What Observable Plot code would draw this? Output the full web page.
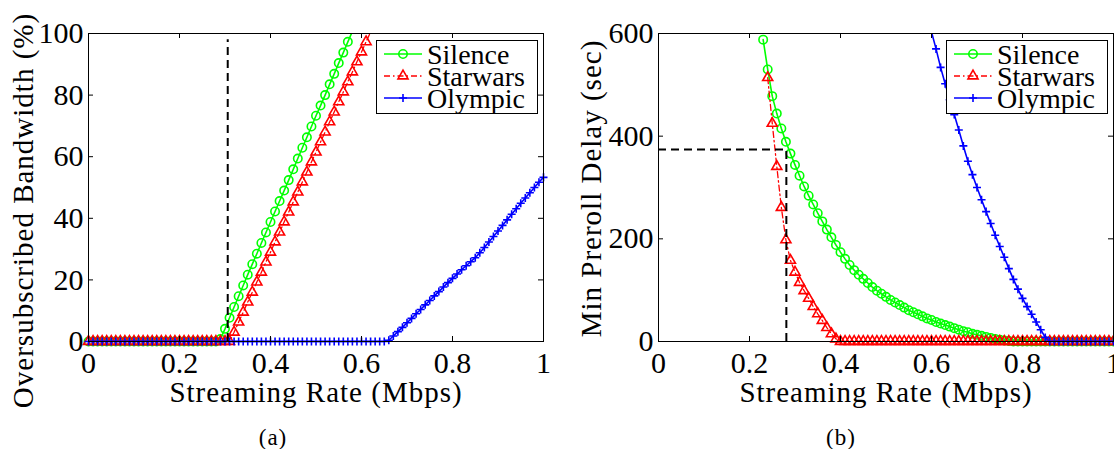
<!DOCTYPE html>
<html>
<head>
<meta charset="utf-8">
<script src="https://cdn.jsdelivr.net/npm/d3@7"></script>
<script src="https://cdn.jsdelivr.net/npm/@observablehq/plot@0.6"></script>
<style>
  body { margin: 0; background: #fff; }
  #row { display: flex; width: 1114px; height: 449px; overflow: hidden; }
  #row svg { flex: none; }
</style>
</head>
<body>
<div id="row"></div>
<script>
// ---------- data ----------
const rateStep = 0.01;
const xTicks = [0, 0.2, 0.4, 0.6, 0.8, 1];
const oversubTicks = [0, 20, 40, 60, 80, 100];
const delayTicks = [0, 200, 400, 600];
const seriesNames = ["Silence", "Starwars", "Olympic"];

// (a) Oversubscribed bandwidth (%)
const silenceOversubStart = 0.00;
const silenceOversub = [0,0,0,0,0,0,0,0,0,0, 0,0,0,0,0,0,0,0,0,0, 0,0,0,0,0,0,0,0,0,
  0.8,4.1,7.7,11.2,14.7,18.2,21.7,25.1,28.5,32.0,35.4,38.8,42.2,45.6,49.0,52.4,55.9,59.4,62.9,66.3,
  69.8,73.3,76.6,80.0,83.5,86.9,90.4,93.8,97.3,100.7];
const starwarsOversubStart = 0.00;
const starwarsOversub = [0,0,0,0,0,0,0,0,0,0, 0,0,0,0,0,0,0,0,0,0, 0,0,0,0,0,0,0,0,0,0, 0,0,
  3.0,6.3,9.5,12.8,16.0,19.3,22.5,25.8,29.0,32.3,35.5,38.8,42.0,45.3,48.5,51.8,55.0,58.3,61.5,64.8,
  68.0,71.3,74.5,77.8,81.0,84.3,87.5,90.8,94.0,97.3,100.5];
const olympicOversubStart = 0.00;
const olympicOversub = [0,0,0,0,0,0,0,0,0,0, 0,0,0,0,0,0,0,0,0,0, 0,0,0,0,0,0,0,0,0,0,
  0,0,0,0,0,0,0,0,0,0, 0,0,0,0,0,0,0,0,0,0, 0,0,0,0,0,0,0,0,0,0, 0,0,0,0,0,0,
  0.4,1.8,3.2,4.6,6.1,7.5,9.0,10.4,11.9,13.3,14.8,16.2,17.7,19.1,20.5,21.9,23.3,24.6,25.9,27.2,
  28.8,30.5,32.3,34.1,35.9,37.7,39.5,41.3,43.1,44.9,46.6,48.3,50.0,51.7,53.3];
const refRateA = 0.306, refTopA = 98;

// (b) Min preroll delay (sec)
const silenceDelayStart = 0.23;
const silenceDelay = [588,530,478,444,415,389,366,344,323,302,284,267,250,234,218,203,188,174,161,149,
  139,130,122,114,106,99,93,87,81,76,71,66,61,57,53,49,45,42,38,35,32,29,26,23,20,18,15,13,11,9,7,5,3.5,2,1,0,
  0,0,0,0,0,0,0,0,0,0, 0,0,0,0,0,0,0,0,0,0, 0,0];
const starwarsDelayStart = 0.24;
const starwarsDelay = [514,425,341,261,198,158,135,115,99,84,68,54,41,27,15,5,0,
  0,0,0,0,0,0,0,0,0,0, 0,0,0,0,0,0,0,0,0,0, 0,0,0,0,0,0,0,0,0,0,
  0,0,0,0,0,0,0,0,0,0, 0,0,0,0,0,0,0,0,0,0, 0,0,0,0,0,0,0,0,0,0];
const olympicDelayStart = 0.60;
const olympicDelay = [603,570,534,502,471,442,412,381,351,325,300,276,253,230,207,185,164,142,121,102,
  84,68,53,38,23,8,0, 0,0,0,0,0,0,0,0,0,0,0,0,0,0];
const refRateB = 0.281, refDelayB = 374;

// ---------- styling ----------
const FONT = "'Liberation Serif', 'Times New Roman', serif";
const styles = [
  {color: "#00ff00", symbol: "circle", r: 4.2, dash: null, width: 1.6, d3sym: d3.symbolCircle},
  {color: "#ff0000", symbol: "triangle2", r: 4.8, dash: "6,3,1.5,3", width: 1.3, d3sym: d3.symbolTriangle2},
  {color: "#0000ff", symbol: "plus", r: 2.7, dash: null, width: 1.6, d3sym: d3.symbolPlus}
];

function toRows(start, values) {
  return values.map((v, i) => ({rate: +(start + i * rateStep).toFixed(2), value: v}));
}

function panel(cfg) {
  const W = cfg.width, H = 449, mT = 33, mB = 108;
  const innerW = W - cfg.marginLeft - cfg.marginRight, innerH = H - mT - mB;
  const yMax = cfg.yDomain[1];
  const marks = [];
  cfg.series.forEach((rows, i) => {
    const s = styles[i];
    marks.push(Plot.line(rows, {x: "rate", y: "value", stroke: s.color, strokeWidth: s.width,
      strokeDasharray: s.dash, clip: true}));
    marks.push(Plot.dot(rows.filter(d => d.value <= yMax), {x: "rate", y: "value", symbol: s.symbol, r: s.r,
      stroke: s.color, fill: "none", strokeWidth: 1.6}));
  });
  marks.push(...cfg.refMarks);
  marks.push(Plot.frame({stroke: "black", strokeWidth: 1}));
  marks.push(Plot.tickX(xTicks, {x: d => d, stroke: "black", insetTop: innerH - 5}));
  marks.push(Plot.tickX(xTicks, {x: d => d, stroke: "black", insetBottom: innerH - 5}));
  marks.push(Plot.tickY(cfg.yTicks, {y: d => d, stroke: "black", insetRight: innerW - 5}));
  marks.push(Plot.tickY(cfg.yTicks, {y: d => d, stroke: "black", insetLeft: innerW - 5}));
  marks.push(Plot.axisX(xTicks, {tickSize: 0, tickPadding: 10, tickFormat: d => String(d), label: null, fontSize: 30}));
  marks.push(Plot.axisY(cfg.yTicks, {tickSize: 0, tickPadding: 5, tickFormat: d => String(d), label: null, fontSize: 30}));
  marks.push(Plot.text([cfg.xLabel], {text: d => d, frameAnchor: "bottom", textAnchor: "middle", lineAnchor: "middle",
    dy: 51, fontSize: 29}));
  marks.push(Plot.text([cfg.yLabel], {text: d => d, frameAnchor: "left", textAnchor: "middle", lineAnchor: "middle",
    rotate: -90, dx: cfg.yLabelDx, dy: cfg.yLabelDy, fontSize: 29}));
  marks.push(Plot.text([cfg.caption], {text: d => d, frameAnchor: "bottom", textAnchor: "middle", lineAnchor: "middle",
    dx: cfg.captionDx, dy: 96, fontSize: 23}));

  const svg = Plot.plot({
    width: W, height: H, marginTop: mT, marginBottom: mB,
    marginLeft: cfg.marginLeft, marginRight: cfg.marginRight,
    style: {fontFamily: FONT, fontSize: "28px", background: "white", color: "black"},
    x: {domain: [0, 1]},
    y: {domain: cfg.yDomain},
    marks
  });
  d3.select(svg).selectAll('g[aria-label="text"] text').style("letter-spacing", "1px");

  // legend box
  const b = cfg.legend;
  const g = d3.select(svg).append("g").attr("font-family", FONT).attr("font-size", 28).attr("text-anchor", "start");
  g.append("rect").attr("x", b.x + 0.5).attr("y", b.y + 0.5).attr("width", b.w).attr("height", b.h)
    .attr("fill", "white").attr("stroke", "black").attr("stroke-width", 1);
  seriesNames.forEach((name, i) => {
    const s = styles[i];
    const cy = b.y + 14 + i * 22;
    g.append("line").attr("x1", b.x + 8).attr("x2", b.x + 46).attr("y1", cy).attr("y2", cy)
      .attr("stroke", s.color).attr("stroke-width", s.width).attr("stroke-dasharray", s.dash);
    g.append("path").attr("d", d3.symbol(s.d3sym, Math.PI * s.r * s.r)())
      .attr("transform", `translate(${b.x + 27},${cy})`)
      .attr("fill", "none").attr("stroke", s.color).attr("stroke-width", 1.6);
    g.append("text").attr("x", b.x + 51).attr("y", cy).attr("dy", "0.34em")
      .attr("text-anchor", "start").text(name);
  });
  return svg;
}

const svgA = panel({
  width: 557, marginLeft: 88, marginRight: 14,
  series: [toRows(silenceOversubStart, silenceOversub), toRows(starwarsOversubStart, starwarsOversub), toRows(olympicOversubStart, olympicOversub)],
  yDomain: [0, 100], yTicks: oversubTicks,
  refMarks: [Plot.ruleX([refRateA], {y1: 0, y2: refTopA, stroke: "black", strokeWidth: 2, strokeDasharray: "8,5"})],
  xLabel: "Streaming Rate (Mbps)", yLabel: "Oversubscribed Bandwidth (%)",
  yLabelDx: -65, yLabelDy: 23, caption: "(a)", captionDx: -43,
  legend: {x: 376, y: 40, w: 161, h: 73}
});
const svgB = panel({
  width: 557, marginLeft: 101, marginRight: 1,
  series: [toRows(silenceDelayStart, silenceDelay), toRows(starwarsDelayStart, starwarsDelay), toRows(olympicDelayStart, olympicDelay)],
  yDomain: [0, 600], yTicks: delayTicks,
  refMarks: [
    Plot.ruleY([refDelayB], {x1: 0, x2: refRateB, stroke: "black", strokeWidth: 2, strokeDasharray: "8,5"}),
    Plot.ruleX([refRateB], {y1: 0, y2: refDelayB, stroke: "black", strokeWidth: 2, strokeDasharray: "8,5"})
  ],
  xLabel: "Streaming Rate (Mbps)", yLabel: "Min Preroll Delay (sec)",
  yLabelDx: -67, yLabelDy: 1, caption: "(b)", captionDx: -45,
  legend: {x: 389, y: 40, w: 161, h: 73}
});
document.getElementById("row").append(svgA, svgB);
</script>
</body>
</html>
